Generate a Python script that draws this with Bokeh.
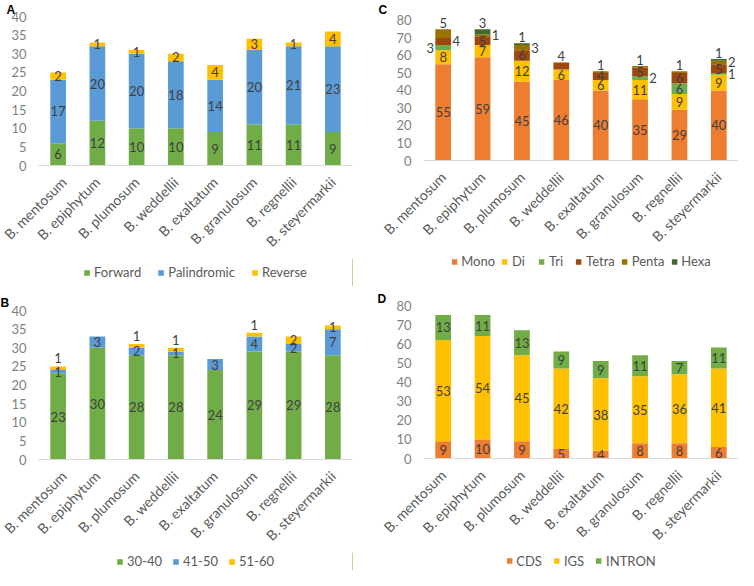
import math
from bokeh.plotting import figure
from bokeh.models import ColumnDataSource, Legend, LegendItem, FactorRange, Range1d
from bokeh.layouts import column, row
from bokeh.embed import file_html
from bokeh.resources import INLINE
from bokeh.core.properties import value

species = ["B. mentosum", "B. epiphytum", "B. plumosum", "B. weddellii",
           "B. exaltatum", "B. granulosum", "B. regnellii", "B. steyermarkii"]

# Panel A: repeat types
a_names = ["Forward", "Palindromic", "Reverse"]
a_forward = [6, 12, 10, 10, 9, 11, 11, 9]
a_palindromic = [17, 20, 20, 18, 14, 20, 21, 23]
a_reverse = [2, 1, 1, 2, 4, 3, 1, 4]

# Panel B: repeat lengths
b_names = ["30-40", "41-50", "51-60"]
b_30_40 = [23, 30, 28, 28, 24, 29, 29, 28]
b_41_50 = [1, 3, 2, 1, 3, 4, 2, 7]
b_51_60 = [1, 0, 1, 1, 0, 1, 2, 1]

# Panel C: SSR motif types
c_names = ["Mono", "Di", "Tri", "Tetra", "Penta", "Hexa"]
c_mono = [55, 59, 45, 46, 40, 35, 29, 40]
c_di = [8, 7, 12, 6, 6, 11, 9, 9]
c_tri = [3, 0, 0, 0, 0, 2, 6, 1]
c_tetra = [4, 5, 6, 4, 4, 5, 6, 5]
c_penta = [5, 1, 3, 0, 1, 1, 1, 2]
c_hexa = [0, 3, 1, 0, 0, 0, 0, 1]

# Panel D: SSR location
d_names = ["CDS", "IGS", "INTRON"]
d_cds = [9, 10, 9, 5, 4, 8, 8, 6]
d_igs = [53, 54, 45, 42, 38, 35, 36, 41]
d_intron = [13, 11, 13, 9, 9, 11, 7, 11]

GREEN, BLUE, GOLD, ORANGE = "#70AD47", "#5B9BD5", "#FFC000", "#ED7D31"
TETRA, PENTA, HEXA = "#9E480E", "#997300", "#43682B"

FONT = "Lato"
LABEL_COLOR = "#404040"
TICK_COLOR = "#7F7F7F"
AXIS_TEXT = "#595959"


def make_chart(names, cols, colors, ymax, step, letter, W, H, bl, br, frame_top, top_px,
               bottom_px, title_offset, title_valign, above_off, special):
    """frame_top: pixel row of the frame's top; top_px / bottom_px: rows of ymax and 0."""
    scale = (bottom_px - top_px) / ymax
    y_end = ymax + (top_px - frame_top) / scale
    p = figure(x_range=FactorRange(*species), y_range=Range1d(0, y_end),
               width=W, height=H, output_backend="svg", toolbar_location=None,
               min_border_left=bl, min_border_right=br, min_border_top=frame_top,
               min_border_bottom=H - bottom_px)
    p.outline_line_color = None
    p.xgrid.visible = False
    p.ygrid.visible = False

    # panel letter as a left-aligned title shifted over the axis labels
    p.title.text = letter
    p.title.align = "left"
    p.title.offset = title_offset
    p.title.standoff = 0
    p.title.vertical_align = title_valign
    p.title.text_font = "Liberation Sans"
    p.title.text_font_style = "bold"
    p.title.text_font_size = "12px"
    p.title.text_color = "black"

    data = {"species": species}
    for n, c in zip(names, cols):
        data[n] = c
    src = ColumnDataSource(data)
    p.vbar_stack(names, x="species", width=0.4, source=src,
                 fill_color=colors, line_color=None)

    lx, ly, lt, xo, yo = [], [], [], [], []
    for i, sp in enumerate(species):
        base = 0
        total = sum(c[i] for c in cols)
        for n, c in zip(names, cols):
            v = c[i]
            if v > 0:
                mode = special.get((i, n), "center")
                if mode == "above":
                    ly.append(total); xo.append(0); yo.append(above_off)
                elif mode == "left":
                    ly.append(base + v / 2); xo.append(-13); yo.append(0)
                elif mode == "right":
                    ly.append(base + v / 2); xo.append(13); yo.append(0)
                else:
                    ly.append(base + v / 2); xo.append(0); yo.append(0)
                lx.append(sp)
                lt.append(str(v))
            base += v
    lsrc = ColumnDataSource(dict(x=lx, y=ly, text=lt, xo=xo, yo=yo))
    p.text(x="x", y="y", text="text", x_offset="xo", y_offset="yo", source=lsrc,
           text_font=value(FONT), text_font_size="13px", text_color=LABEL_COLOR,
           text_align="center", text_baseline="middle")

    p.yaxis.ticker = list(range(0, ymax + 1, step))
    p.yaxis.axis_line_color = None
    p.yaxis.major_tick_line_color = None
    p.yaxis.minor_tick_line_color = None
    p.yaxis.major_tick_out = 0
    p.yaxis.major_tick_in = 0
    p.yaxis.major_label_text_font = FONT
    p.yaxis.major_label_text_font_size = "13px"
    p.yaxis.major_label_text_color = TICK_COLOR
    p.yaxis.major_label_standoff = 12

    p.xaxis.axis_line_color = "#D9D9D9"
    p.xaxis.major_tick_line_color = None
    p.xaxis.minor_tick_line_color = None
    p.xaxis.major_tick_out = 0
    p.xaxis.major_tick_in = 0
    p.xaxis.major_label_orientation = math.pi / 4
    p.xaxis.major_label_text_font = FONT
    p.xaxis.major_label_text_font_size = "14px"
    p.xaxis.major_label_text_color = AXIS_TEXT
    p.xaxis.major_label_standoff = 14
    return p


def make_legend(names, colors, W, H, loc, spacing):
    p = figure(width=W, height=H, x_range=Range1d(0, 1), y_range=Range1d(0, 1),
               output_backend="svg", toolbar_location=None, min_border=0,
               x_axis_location=None, y_axis_location=None)
    p.outline_line_color = None
    p.grid.visible = False
    items = []
    for n, c in zip(names, colors):
        # proxy glyph placed outside the visible range; only its legend swatch shows
        r = p.vbar(x=[5], top=[5], width=0.4, fill_color=c, line_color=None)
        items.append(LegendItem(label=n, renderers=[r]))
    legend = Legend(items=items, orientation="horizontal", location=loc,
                    padding=0, margin=0, spacing=spacing,
                    glyph_width=7, glyph_height=7, label_standoff=4,
                    label_text_font=FONT, label_text_font_size="13px",
                    label_text_color=AXIS_TEXT, border_line_color=None,
                    background_fill_alpha=0)
    p.add_layout(legend)
    return p


# ---- panel A ----
pa = make_chart(a_names, [a_forward, a_palindromic, a_reverse], [GREEN, BLUE, GOLD],
                40, 5, "A", 369, 258, 32, 17, 14, 14, 166, -32, "bottom", -8, {})
ga = make_legend(a_names, [GREEN, BLUE, GOLD], 369, 28, "center", 16)

# ---- panel B ----
b_special = {(0, "51-60"): "above", (2, "51-60"): "above",
             (3, "51-60"): "above", (5, "51-60"): "above"}
pb = make_chart(b_names, [b_30_40, b_41_50, b_51_60], [GREEN, BLUE, GOLD],
                40, 5, "B", 369, 266, 38, 11, 24, 24, 178, -38, "middle", -8, b_special)
gb = make_legend(b_names, [GREEN, BLUE, GOLD], 369, 18, "center", 10)

# ---- panel C ----
c_special = {(0, "Tri"): "left", (0, "Tetra"): "right", (0, "Penta"): "above",
             (1, "Penta"): "right", (1, "Hexa"): "above",
             (2, "Penta"): "right", (2, "Hexa"): "above",
             (3, "Tetra"): "above", (4, "Penta"): "above",
             (5, "Tri"): "right", (5, "Penta"): "above",
             (6, "Penta"): "above",
             (7, "Tri"): "right", (7, "Penta"): "right", (7, "Hexa"): "above"}
c_colors = [ORANGE, GOLD, GREEN, TETRA, PENTA, HEXA]
pc = make_chart(c_names, [c_mono, c_di, c_tri, c_tetra, c_penta, c_hexa], c_colors,
                80, 10, "C", 369, 253, 53, 0, 14, 18, 161, -45, "bottom", -6, c_special)
gc = make_legend(c_names, c_colors, 369, 33, "top_center", 6)

# ---- panel D ----
pd_ = make_chart(d_names, [d_cds, d_igs, d_intron], [ORANGE, GOLD, GREEN],
                 80, 10, "D", 369, 265, 54, 0, 19, 19, 177, -46, "bottom", -8, {})
gd = make_legend(d_names, [ORANGE, GOLD, GREEN], 369, 19, "center", 11)

left = column(pa, ga, pb, gb)
right = column(pc, gc, pd_, gd)
layout = row(left, right)
open("out.html", "w").write(file_html(layout, INLINE))
